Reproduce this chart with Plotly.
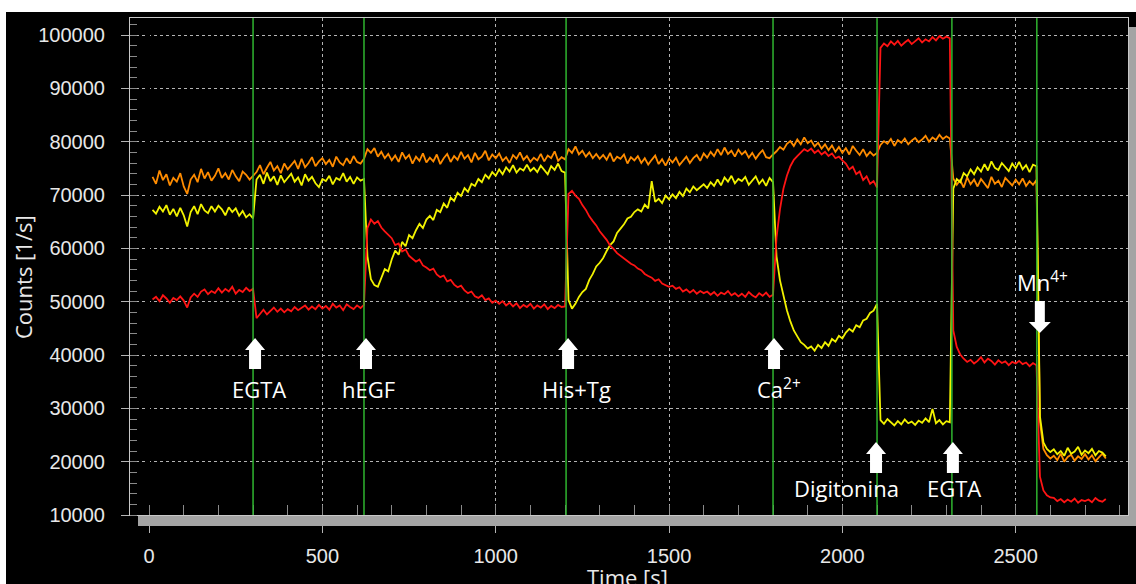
import plotly.graph_objects as go

# sampling instants of the recording [s]
time_s = list(range(10, 2770, 10))

# counts in thousands of counts per second (one row = 100 s)
orange_k = [
    73.4, 72.1, 74.6, 72.8, 73.9, 71.8, 73.2, 72.5, 74.1, 71.6,
    70.2, 72.9, 73.8, 72.4, 74.9, 73.1, 74.3, 72.7, 73.6, 75.0,
    73.2, 74.1, 72.9, 74.7, 73.5, 72.6, 74.4, 73.8, 72.9, 73.7,
    74.3, 75.6, 73.9, 75.1, 76.2, 74.6, 75.4, 74.1, 75.9, 74.8,
    75.5, 76.4, 74.9, 76.8, 75.2, 76.0, 77.1, 75.4, 76.3, 76.9,
    75.8, 76.6, 75.3, 77.2, 76.1, 75.6, 76.9, 75.9, 77.3, 76.2,
    75.9, 76.8, 78.6, 77.9, 78.8, 77.2, 78.1, 76.9, 77.7, 76.5,
    77.4, 76.2, 78.0, 76.8, 77.5, 75.9, 77.2, 76.4, 77.8, 76.1,
    77.0, 76.3, 77.6, 75.8, 76.9, 77.7, 76.2, 77.3, 76.6, 78.1,
    76.8, 77.5, 76.1, 77.9, 76.7, 77.2, 78.3, 76.5, 77.6, 76.9,
    77.8, 76.4, 77.1, 76.0, 77.5, 76.8, 78.0, 76.6, 77.3, 76.2,
    77.0, 76.5, 77.7, 76.3, 77.4, 76.9, 78.2, 76.4, 77.1, 76.7,
    78.6, 77.9, 79.1, 77.6, 78.3, 77.2, 78.0, 76.9, 77.7, 76.8,
    77.5, 76.6, 77.9, 76.3, 77.2, 76.8, 77.6, 75.9, 77.1, 76.5,
    77.3, 76.0, 76.9, 75.7, 76.6, 77.4, 75.8, 76.7, 75.5, 76.8,
    76.1, 77.0, 75.6, 76.5, 77.2, 76.0, 76.9, 77.5, 76.4, 77.8,
    77.0, 78.1, 77.3, 78.6, 77.5, 78.9, 77.7, 78.3, 77.2, 78.5,
    77.6, 78.2, 77.0, 77.9, 76.8, 77.7, 78.4, 77.1, 76.9, 77.6,
    78.2, 79.0, 78.5, 79.6, 80.1, 79.2, 80.4, 79.5, 80.8, 79.7,
    80.2, 79.1, 79.8, 78.7, 79.5, 78.4, 79.3, 78.1, 79.0, 77.9,
    78.8, 77.6, 79.2, 78.3, 77.5, 78.6, 77.3, 78.1, 77.4, 77.9,
    79.4, 80.1, 79.6, 80.5, 79.2, 80.3, 79.8, 80.6, 79.5, 80.2,
    80.7, 79.9, 80.4, 81.1, 80.0, 80.8, 80.3, 81.3, 80.5, 81.0,
    80.6, 73.1, 71.9, 72.8, 71.4, 73.3, 72.0, 72.9, 71.6, 73.0,
    72.2, 71.3, 73.4, 72.1, 72.7, 71.5, 73.2, 72.4, 71.8, 72.9,
    72.0, 73.1, 71.7, 72.6, 71.9, 72.8, 27.5, 22.4, 21.2, 20.6,
    21.1, 20.3, 21.5, 20.0, 20.9, 21.3, 20.2, 21.0, 20.5, 21.4,
    20.4, 21.2, 20.1, 20.8, 21.5, 20.6,
]

yellow_k = [
    67.2, 66.5, 67.8, 66.9, 68.1, 66.3, 67.4, 66.0, 67.6, 66.2,
    64.1, 66.8, 67.9, 66.4, 68.3, 67.1, 66.6, 67.9, 66.9, 68.0,
    67.3, 66.2, 67.7, 66.8, 67.5, 66.1, 67.0, 65.8, 66.4, 65.6,
    72.9, 73.8, 72.1, 74.2, 72.6, 73.5, 71.9, 73.7, 72.4, 73.1,
    74.0, 72.5, 73.3, 71.8, 73.9, 72.7, 73.4, 72.2, 71.5, 73.0,
    72.6, 73.6, 72.0, 73.2, 72.8, 74.1, 72.5, 73.4, 72.1, 73.3,
    72.7, 73.0, 58.5, 54.2, 53.1, 52.8, 54.6, 56.1, 55.7, 57.9,
    59.6, 58.8, 61.2, 60.4, 62.5, 61.9, 63.4, 64.6, 63.8, 65.4,
    66.1, 65.3, 67.2, 66.8, 68.4, 67.6, 69.5, 68.9, 70.4, 69.8,
    71.3, 70.6, 72.1, 71.7, 73.0, 72.4, 73.8, 73.1, 74.3, 73.6,
    74.8, 73.9, 75.2, 74.4, 75.6, 74.2, 75.0, 74.6, 75.7, 74.5,
    75.1, 74.3, 75.5, 74.8, 73.9, 75.4, 74.7, 75.9, 74.5, 74.2,
    50.3, 48.7, 49.6, 50.9, 51.8, 52.4, 54.1, 55.2, 56.6, 57.3,
    58.2, 59.5, 60.6, 61.3, 62.9, 63.7, 64.5, 65.6, 65.9, 66.8,
    67.3, 66.9, 68.2, 67.5, 72.6, 68.7, 69.3, 68.5, 69.9, 69.2,
    70.1, 69.4, 70.6, 69.8, 71.2, 70.5, 71.6, 70.9, 71.4, 72.0,
    71.3, 72.4, 71.7, 72.9, 71.8, 73.3, 72.5, 73.6, 72.2, 73.0,
    72.6, 73.4, 71.9, 72.8, 73.5, 72.1, 72.9, 71.7, 73.2, 72.4,
    58.5, 54.0, 51.2, 48.4, 46.3, 44.6, 43.5, 42.4, 41.9, 41.2,
    41.6, 40.8, 41.9, 41.3, 42.4, 41.7, 43.0, 42.5, 43.6, 43.1,
    44.2, 44.9, 44.4, 45.6, 45.2, 46.5, 46.8, 47.9, 48.3, 49.6,
    27.8, 27.1, 28.0, 27.3, 26.8, 27.6, 27.0, 27.9, 27.2, 27.5,
    26.9, 27.7, 27.3, 28.1, 27.4, 29.9, 27.2, 27.8, 27.0, 27.6,
    27.4, 71.2, 73.0, 72.4, 74.1, 73.5, 74.8, 73.9, 75.2, 74.4,
    75.8, 74.6, 76.3, 75.1, 74.7, 76.0, 75.3, 74.5, 75.9, 75.0,
    76.2, 74.8, 75.6, 74.3, 75.7, 75.4, 28.5, 23.6, 22.4, 21.8,
    22.3, 21.4, 22.0, 21.1, 22.6, 21.5, 21.9, 22.8, 21.3, 22.1,
    21.6, 22.4, 21.2, 22.0, 21.7, 21.0,
]

red_k = [
    50.4, 50.9, 50.1, 51.2, 50.6, 49.8, 50.7, 50.3, 51.0, 50.2,
    48.9, 50.8, 51.5, 50.9, 51.9, 52.3, 51.4, 52.0, 51.6, 52.5,
    51.7, 52.4, 51.9, 52.8, 51.5, 52.2, 51.8, 52.6, 52.0, 52.4,
    46.9, 47.8, 48.5, 47.6, 48.3, 48.9, 48.1, 48.7, 48.0, 48.6,
    48.2, 49.0, 48.4, 48.8, 49.3, 48.5, 49.1, 48.6, 49.4, 48.7,
    49.2, 48.5, 49.6, 48.9, 49.3, 48.4, 49.5, 49.0, 48.6, 49.3,
    48.8, 49.4, 63.8, 65.4, 64.6, 65.1, 63.9, 63.2, 62.5, 61.9,
    60.6, 60.9, 59.4, 59.8, 58.6, 58.1, 57.5, 57.9, 56.8, 56.4,
    55.9, 56.2, 55.1, 54.6, 54.9, 53.8, 54.1, 53.2, 52.7, 53.0,
    52.1, 51.6, 51.9, 51.0, 50.7, 51.2, 50.3, 50.6, 49.8, 50.2,
    49.6, 50.1, 49.3, 49.8, 49.1, 49.7, 48.8, 49.4, 49.0, 49.6,
    48.7, 49.3, 48.9, 49.5, 48.6, 49.2, 48.8, 49.4, 49.0, 49.1,
    70.2, 70.8, 69.9, 69.3, 68.1, 67.2, 66.0, 65.1, 64.3, 63.2,
    62.4, 61.6, 60.5, 59.9, 59.1, 58.6, 58.0, 57.6, 57.1, 56.8,
    56.2, 55.9, 55.2, 54.8, 54.5, 53.9, 54.2, 53.4, 53.1, 52.8,
    53.0, 52.4, 52.7, 51.9, 52.3, 51.7, 52.2, 51.5, 52.0, 51.6,
    51.9, 51.3, 51.8, 51.1, 51.7, 51.4, 52.0, 51.2, 51.6, 51.0,
    51.5, 50.9, 51.8, 51.2, 50.8, 51.6, 51.1, 51.7, 50.9, 51.3,
    62.0, 67.3, 71.2, 73.6, 75.4, 76.6, 77.3, 77.9, 78.6, 78.2,
    78.7, 77.9, 78.4, 77.6, 78.1, 77.3, 77.8, 76.9, 77.2, 76.5,
    75.9, 74.8, 75.3, 73.9, 74.4, 72.8, 73.5, 72.1, 72.6, 71.4,
    97.6, 98.4, 97.9, 98.8, 98.2, 98.9, 98.0, 98.6, 99.1, 98.3,
    98.9, 99.4, 98.6, 99.2, 98.8, 99.6, 99.0, 99.8, 99.3, 99.7,
    99.4, 44.6, 41.5, 40.1, 39.3, 38.7, 39.1, 38.4, 38.9, 39.6,
    38.6, 39.3, 38.9, 38.2, 39.0, 38.5, 38.8, 38.1, 38.7, 38.4,
    38.9, 38.3, 38.6, 37.9, 38.5, 38.1, 17.2, 14.6, 13.7, 13.3,
    13.2, 12.6, 13.0, 12.4, 12.9, 12.5, 13.1, 12.3, 12.8, 12.6,
    12.9, 12.4, 13.2, 12.7, 12.5, 13.0,
]

event_times = [300, 620, 1203, 1800, 2100, 2316, 2561]
event_labels = ["EGTA", "hEGF", "His+Tg", "Ca<sup>2+</sup>", "Digitonina", "EGTA", "Mn<sup>4+</sup>"]

x_ticks = [0, 500, 1000, 1500, 2000, 2500]
y_ticks = [10000, 20000, 30000, 40000, 50000, 60000, 70000, 80000, 90000, 100000]

# annotation placement (layout only)
label_y = [33700, 33700, 33700, 33700, 15000, 15000, 53800]
label_dx = [6, 5, 10, 6, -31, 2, 6]
arrow_tip = [43190, 43190, 43190, 43190, 23690, 23690, 44125]
arrow_up = [True, True, True, True, True, True, False]
arrow_dx = [2, 2, 2, 1, -1, 1, 3]

W, H = 1136, 584
L, R, T, B = 130, 8, 18, 69
PW, PH = W - L - R, H - T - B


def px_x(px):
    return (px - L) / PW


def px_y(py):
    return (H - B - py) / PH


fig = go.Figure()
series = [("orange", orange_k, "#ff8c00"), ("yellow", yellow_k, "#f2f200"), ("red", red_k, "#ff1414")]
for name, vals, color in series:
    fig.add_trace(go.Scatter(
        x=time_s, y=[v * 1000 for v in vals], mode="lines", name=name,
        line=dict(color=color, width=1.8), showlegend=False, hoverinfo="skip"))

grid_col = "#b4b4b4"
fig.update_layout(
    width=W, height=H,
    margin=dict(l=L, r=R, t=T, b=B, pad=0),
    paper_bgcolor="black", plot_bgcolor="black",
    font=dict(family="Liberation Sans", color="#e8e8e8", size=20),
    xaxis=dict(
        range=[-55, 2824], tickvals=x_ticks, ticktext=[str(v) for v in x_ticks],
        showgrid=True, gridcolor=grid_col, griddash="3px,3px", gridwidth=1,
        zeroline=True, zerolinecolor="black",
        ticks="outside", ticklen=17, tickcolor=grid_col, tickwidth=1,
        ticklabelstandoff=6,
        showline=True, linecolor="#c8c8c8", linewidth=1, mirror=True,
        minor=dict(dtick=100, tick0=0, ticks="inside", ticklen=10, tickcolor="#8a8a8a", showgrid=False),
        tickfont=dict(family="Liberation Sans", size=20, color="#e8e8e8"),
    ),
    yaxis=dict(
        range=[10000, 103190], tickvals=y_ticks, ticktext=[str(v) for v in y_ticks],
        showgrid=True, gridcolor=grid_col, griddash="3px,3px", gridwidth=1,
        zeroline=False,
        ticks="outside", ticklen=8, tickcolor=grid_col, tickwidth=1,
        ticklabelstandoff=12,
        showline=True, linecolor="#c8c8c8", linewidth=1, mirror=True,
        minor=dict(dtick=2000, tick0=0, ticks="inside", ticklen=7, tickcolor="#8a8a8a", showgrid=False),
        tickfont=dict(family="Liberation Sans", size=20, color="#e8e8e8"),
    ),
)

# event lines
for t in event_times:
    fig.add_shape(type="line", xref="x", yref="paper", x0=t, x1=t, y0=0, y1=1,
                  line=dict(color="#2fb52f", width=1.5), layer="above")

# block arrows
for t, tip, up, dx in zip(event_times, arrow_tip, arrow_up, arrow_dx):
    if up:
        path = (f"M {dx},0 L {dx+10},-12 L {dx+6},-12 L {dx+6},-31 "
                f"L {dx-6},-31 L {dx-6},-12 L {dx-10},-12 Z")
    else:
        path = (f"M {dx},0 L {dx+11},11 L {dx+5},11 L {dx+5},32 "
                f"L {dx-5},32 L {dx-5},11 L {dx-11},11 Z")
    fig.add_shape(type="path", xref="x", yref="y", xsizemode="pixel", ysizemode="pixel",
                  xanchor=t, yanchor=tip, path=path, fillcolor="white",
                  line=dict(width=0), layer="above")

# event labels
for t, lab, ly, dx in zip(event_times, event_labels, label_y, label_dx):
    fig.add_annotation(x=t, y=ly, xref="x", yref="y", text=lab, showarrow=False,
                       xshift=dx, xanchor="center", yanchor="middle",
                       font=dict(family="Open Sans", size=22, color="white"))

# axis titles
fig.add_annotation(x=px_x(23), y=px_y(277), xref="paper", yref="paper", text="Counts [1/s]",
                   textangle=-90, showarrow=False, xanchor="center", yanchor="middle",
                   font=dict(family="Open Sans", size=22, color="#e8e8e8"))
fig.add_annotation(x=px_x(627), y=px_y(577), xref="paper", yref="paper", text="Time [s]",
                   showarrow=False, xanchor="center", yanchor="middle",
                   font=dict(family="Open Sans", size=22, color="#e8e8e8"))

# 3-D frame shadow and white page margin
shadow = "#a4a4a4"
fig.add_shape(type="rect", xref="paper", yref="paper", x0=px_x(1129), x1=px_x(1137),
              y0=px_y(526), y1=px_y(27), fillcolor=shadow, line=dict(width=0), layer="above")
fig.add_shape(type="rect", xref="paper", yref="paper", x0=px_x(138), x1=px_x(1137),
              y0=px_y(526), y1=px_y(516), fillcolor=shadow, line=dict(width=0), layer="above")
fig.add_shape(type="rect", xref="paper", yref="paper", x0=px_x(-1), x1=px_x(6),
              y0=px_y(585), y1=px_y(-1), fillcolor="white", line=dict(width=0), layer="above")
fig.add_shape(type="rect", xref="paper", yref="paper", x0=px_x(-1), x1=px_x(1137),
              y0=px_y(12), y1=px_y(-1), fillcolor="white", line=dict(width=0), layer="above")

fig.write_html("out.html")
